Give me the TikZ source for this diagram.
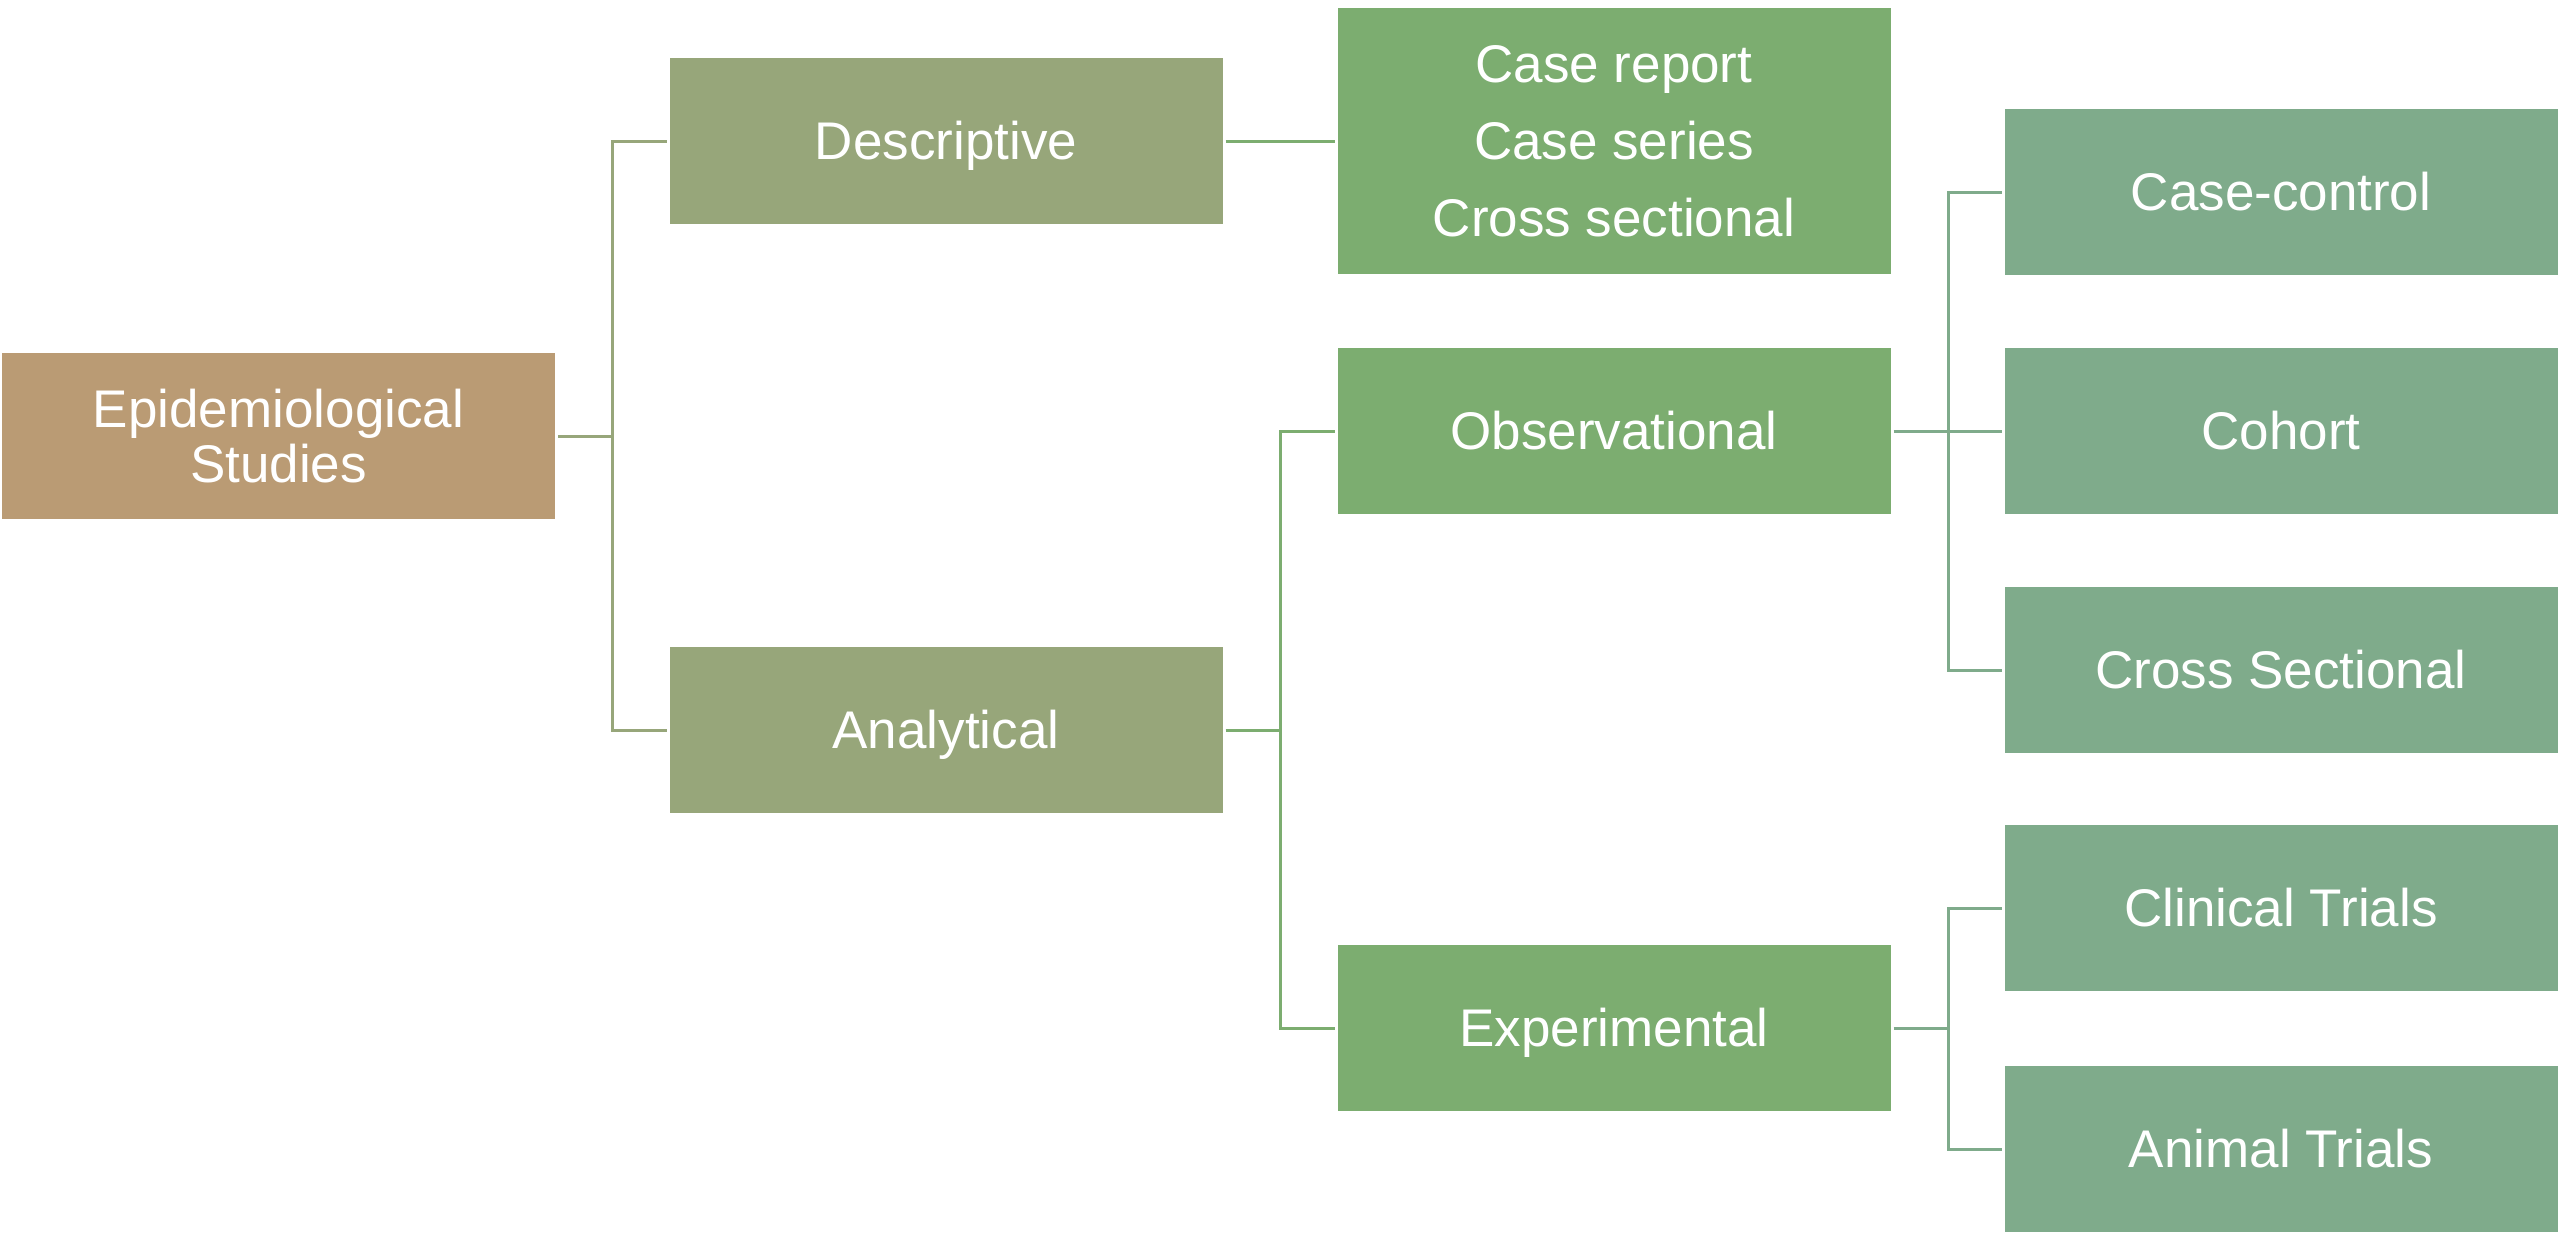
\documentclass[tikz,border=0pt]{standalone}
\usepackage{fontspec}
\setmainfont{Liberation Sans}
\definecolor{cRoot}{RGB}{186,155,116}
\definecolor{cLvA}{RGB}{151,166,122}
\definecolor{cLvB}{RGB}{124,173,112}
\definecolor{cLvC}{RGB}{127,171,139}
\begin{document}
\begin{tikzpicture}[x=0.5pt,y=-0.5pt,
  box/.style={rectangle, minimum width=276.5pt, minimum height=83pt, inner sep=0pt,
    outer sep=1.5pt, text=white, align=center,
    font=\fontsize{26.5}{27.5}\selectfont},
  oneline/.style={text height=24pt, text depth=5.6pt},
  rootbox/.style={box, fill=cRoot},
  boxA/.style={box, oneline, fill=cLvA},
  boxB/.style={box, fill=cLvB},
  boxC/.style={box, oneline, fill=cLvC},
  lnA/.style={draw=cLvA, line width=1.5pt},
  lnB/.style={draw=cLvB, line width=1.5pt},
  lnC/.style={draw=cLvC, line width=1.5pt}]
\useasboundingbox (0,0) rectangle (2560,1233);

\node[rootbox] (E) at (278.5,436) {Epidemiological\\Studies};
\node[boxA] (D) at (946,141) {Descriptive};
\node[boxA] (A) at (946,730) {Analytical};
\node[boxB, minimum height=133pt, font=\fontsize{26.5}{38.5}\selectfont] (L) at (1614,141) {Case report\\Case series\\Cross sectional};
\node[boxB, oneline] (O) at (1614,431) {Observational};
\node[boxB, oneline] (X) at (1614,1028) {Experimental};
\node[boxC] (CC) at (2281,192) {Case-control};
\node[boxC] (Co) at (2281,431) {Cohort};
\node[boxC] (CS) at (2281,670) {Cross Sectional};
\node[boxC] (Cl) at (2281,908) {Clinical Trials};
\node[boxC] (An) at (2281,1149) {Animal Trials};

\coordinate (j1) at (612,436);
\coordinate (j2) at (1280,730);
\coordinate (j3) at (1948,431);
\coordinate (j4) at (1948,1028);

\draw[lnA] (E.east) -- (j1);
\draw[lnA] (D.west) -| (j1) |- (A.west);
\draw[lnB] (D.east) -- (L.west);
\draw[lnB] (A.east) -- (j2);
\draw[lnB] (O.west) -| (j2) |- (X.west);
\draw[lnC] (O.east) -- (j3);
\draw[lnC] (CC.west) -| (j3) |- (CS.west);
\draw[lnC] (j3) -- (Co.west);
\draw[lnC] (X.east) -- (j4);
\draw[lnC] (Cl.west) -| (j4) |- (An.west);
\end{tikzpicture}
\end{document}
